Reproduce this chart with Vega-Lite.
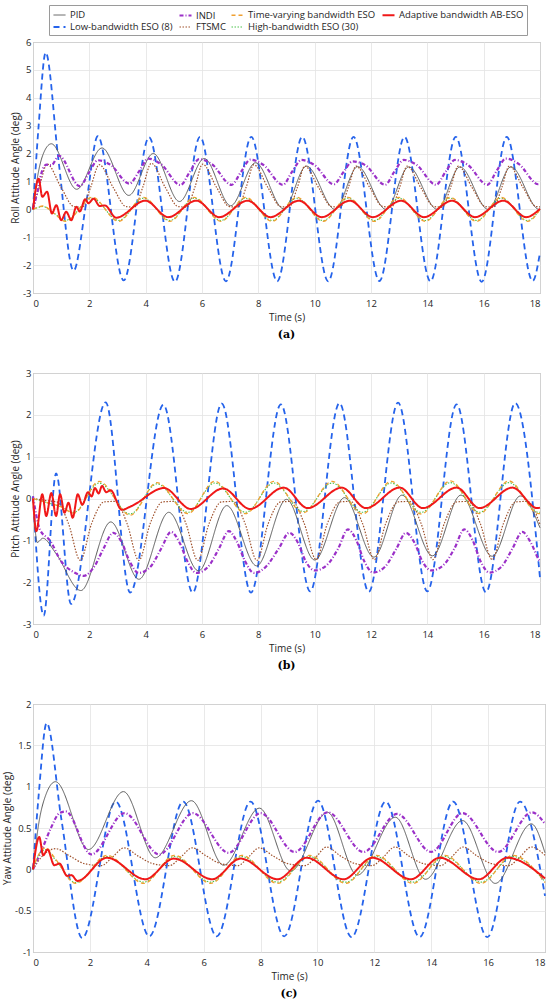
{
  "$schema": "https://vega.github.io/schema/vega-lite/v6.json",
  "padding": {"left": 2, "top": 4, "right": 0, "bottom": 0},
  "datasets": {
    "roll": [
      {"s":"L","t":0,"v":0},{"s":"L","t":0.2,"v":3.0},{"s":"L","t":0.45,"v":5.62},{"s":"L","t":0.9,"v":1.8},{"s":"L","t":1.44,"v":-2.2},{"s":"L","t":1.9,"v":0.3},{"s":"L","t":2.3,"v":2.62},{"s":"L","t":3.22,"v":-2.55},{"s":"L","t":4.12,"v":2.58},{"s":"L","t":5.04,"v":-2.6},{"s":"L","t":5.93,"v":2.6},{"s":"L","t":6.85,"v":-2.58},{"s":"L","t":7.75,"v":2.6},{"s":"L","t":8.67,"v":-2.58},{"s":"L","t":9.56,"v":2.6},{"s":"L","t":10.48,"v":-2.58},{"s":"L","t":11.38,"v":2.6},{"s":"L","t":12.3,"v":-2.57},{"s":"L","t":13.19,"v":2.6},{"s":"L","t":14.11,"v":-2.58},{"s":"L","t":15.01,"v":2.6},{"s":"L","t":15.93,"v":-2.6},{"s":"L","t":16.82,"v":2.6},{"s":"L","t":17.74,"v":-2.57},{"s":"L","t":18,"v":-1.55},
      {"s":"P","t":0,"v":0},{"s":"P","t":0.15,"v":1.1},{"s":"P","t":0.35,"v":1.95},{"s":"P","t":0.65,"v":2.35},{"s":"P","t":1.55,"v":0.72},{"s":"P","t":2.45,"v":2.2},{"s":"P","t":3.4,"v":0.5},{"s":"P","t":4.27,"v":2.0},{"s":"P","t":5.2,"v":0.28},{"s":"P","t":6.08,"v":1.82},{"s":"P","t":7.02,"v":0.13},{"s":"P","t":7.9,"v":1.67},{"s":"P","t":8.9,"v":0.02},{"s":"P","t":9.71,"v":1.55},{"s":"P","t":10.72,"v":0.0},{"s":"P","t":11.53,"v":1.53},{"s":"P","t":12.53,"v":0.0},{"s":"P","t":13.34,"v":1.52},{"s":"P","t":14.35,"v":0.0},{"s":"P","t":15.16,"v":1.52},{"s":"P","t":16.16,"v":0.0},{"s":"P","t":16.97,"v":1.52},{"s":"P","t":17.97,"v":0.0},{"s":"P","t":18,"v":0.01},
      {"s":"F","t":0,"v":0},{"s":"F","t":0.25,"v":0.9},{"s":"F","t":0.5,"v":1.62},{"s":"F","t":1.0,"v":0.78},{"s":"F","t":1.45,"v":0.1},{"s":"F","t":1.75,"v":0.08},{"s":"F","t":2.05,"v":0.8},
      {"s":"F","t":2.35,"v":1.6},{"s":"F","t":2.85,"v":0.78},{"s":"F","t":3.3,"v":0.1},{"s":"F","t":3.6,"v":0.08},{"s":"F","t":3.9,"v":0.8},
      {"s":"F","t":4.2,"v":1.65},{"s":"F","t":4.7,"v":0.78},{"s":"F","t":5.15,"v":0.1},{"s":"F","t":5.45,"v":0.08},{"s":"F","t":5.75,"v":0.8},
      {"s":"F","t":6.02,"v":1.62},{"s":"F","t":6.52,"v":0.78},{"s":"F","t":6.97,"v":0.1},{"s":"F","t":7.27,"v":0.08},{"s":"F","t":7.57,"v":0.8},
      {"s":"F","t":7.84,"v":1.6},{"s":"F","t":8.34,"v":0.78},{"s":"F","t":8.79,"v":0.1},{"s":"F","t":9.09,"v":0.08},{"s":"F","t":9.39,"v":0.8},
      {"s":"F","t":9.65,"v":1.55},{"s":"F","t":10.15,"v":0.76},{"s":"F","t":10.6,"v":0.1},{"s":"F","t":10.9,"v":0.08},{"s":"F","t":11.2,"v":0.8},
      {"s":"F","t":11.47,"v":1.55},{"s":"F","t":11.97,"v":0.76},{"s":"F","t":12.42,"v":0.1},{"s":"F","t":12.72,"v":0.08},{"s":"F","t":13.02,"v":0.8},
      {"s":"F","t":13.28,"v":1.55},{"s":"F","t":13.78,"v":0.76},{"s":"F","t":14.23,"v":0.1},{"s":"F","t":14.53,"v":0.08},{"s":"F","t":14.83,"v":0.8},
      {"s":"F","t":15.1,"v":1.55},{"s":"F","t":15.6,"v":0.76},{"s":"F","t":16.05,"v":0.1},{"s":"F","t":16.35,"v":0.08},{"s":"F","t":16.65,"v":0.8},
      {"s":"F","t":16.91,"v":1.55},{"s":"F","t":17.41,"v":0.76},{"s":"F","t":17.86,"v":0.1},{"s":"F","t":18,"v":0.09},
      {"s":"I","t":0,"v":0},{"s":"I","t":0.15,"v":0.6},{"s":"I","t":0.3,"v":1.3},{"s":"I","t":0.47,"v":1.6},{"s":"I","t":0.65,"v":1.58},{"s":"I","t":0.92,"v":1.92},{"s":"I","t":1.66,"v":0.83},{"s":"I","t":1.98,"v":1.3},
      {"s":"I","t":2.3,"v":1.76},{"s":"I","t":2.75,"v":1.6},{"s":"I","t":3.42,"v":0.92},{"s":"I","t":3.76,"v":1.35},
      {"s":"I","t":4.09,"v":1.82},{"s":"I","t":4.54,"v":1.62},{"s":"I","t":5.24,"v":0.87},{"s":"I","t":5.57,"v":1.35},
      {"s":"I","t":5.9,"v":1.8},{"s":"I","t":6.35,"v":1.62},{"s":"I","t":7.05,"v":0.88},{"s":"I","t":7.39,"v":1.35},
      {"s":"I","t":7.72,"v":1.78},{"s":"I","t":8.17,"v":1.6},{"s":"I","t":8.87,"v":0.88},{"s":"I","t":9.2,"v":1.35},
      {"s":"I","t":9.53,"v":1.77},{"s":"I","t":9.98,"v":1.6},{"s":"I","t":10.68,"v":0.9},{"s":"I","t":11.02,"v":1.33},
      {"s":"I","t":11.35,"v":1.72},{"s":"I","t":11.8,"v":1.58},{"s":"I","t":12.5,"v":0.88},{"s":"I","t":12.83,"v":1.35},
      {"s":"I","t":13.16,"v":1.77},{"s":"I","t":13.61,"v":1.6},{"s":"I","t":14.31,"v":0.88},{"s":"I","t":14.65,"v":1.35},
      {"s":"I","t":14.98,"v":1.77},{"s":"I","t":15.43,"v":1.6},{"s":"I","t":16.13,"v":0.88},{"s":"I","t":16.46,"v":1.38},
      {"s":"I","t":16.79,"v":1.82},{"s":"I","t":17.24,"v":1.63},{"s":"I","t":17.94,"v":0.9},{"s":"I","t":18,"v":0.93},
      {"s":"H","t":0,"v":0},{"s":"H","t":0.35,"v":0.1},{"s":"H","t":0.75,"v":-0.14},{"s":"H","t":1.15,"v":-0.4},{"s":"H","t":2.1,"v":0.4},{"s":"H","t":3.04,"v":-0.4},{"s":"H","t":3.92,"v":0.4},{"s":"H","t":4.86,"v":-0.4},{"s":"H","t":5.73,"v":0.4},{"s":"H","t":6.67,"v":-0.4},{"s":"H","t":7.55,"v":0.4},{"s":"H","t":8.49,"v":-0.4},{"s":"H","t":9.36,"v":0.4},{"s":"H","t":10.3,"v":-0.4},{"s":"H","t":11.18,"v":0.4},{"s":"H","t":12.12,"v":-0.4},{"s":"H","t":12.99,"v":0.4},{"s":"H","t":13.93,"v":-0.4},{"s":"H","t":14.81,"v":0.4},{"s":"H","t":15.75,"v":-0.4},{"s":"H","t":16.62,"v":0.4},{"s":"H","t":17.56,"v":-0.4},{"s":"H","t":18,"v":0.0},
      {"s":"T","t":0,"v":0},{"s":"T","t":0.35,"v":0.12},{"s":"T","t":0.75,"v":-0.15},{"s":"T","t":1.15,"v":-0.43},{"s":"T","t":2.1,"v":0.43},{"s":"T","t":3.04,"v":-0.43},{"s":"T","t":3.92,"v":0.43},{"s":"T","t":4.86,"v":-0.43},{"s":"T","t":5.73,"v":0.43},{"s":"T","t":6.67,"v":-0.43},{"s":"T","t":7.55,"v":0.43},{"s":"T","t":8.49,"v":-0.43},{"s":"T","t":9.36,"v":0.43},{"s":"T","t":10.3,"v":-0.43},{"s":"T","t":11.18,"v":0.43},{"s":"T","t":12.12,"v":-0.43},{"s":"T","t":12.99,"v":0.43},{"s":"T","t":13.93,"v":-0.43},{"s":"T","t":14.81,"v":0.43},{"s":"T","t":15.75,"v":-0.43},{"s":"T","t":16.62,"v":0.43},{"s":"T","t":17.56,"v":-0.43},{"s":"T","t":18,"v":0.0},
      {"s":"A","t":0,"v":0},{"s":"A","t":0.2,"v":1.1},{"s":"A","t":0.33,"v":0.45},{"s":"A","t":0.5,"v":0.63},{"s":"A","t":0.67,"v":-0.15},{"s":"A","t":0.83,"v":0.15},{"s":"A","t":1.0,"v":-0.39},{"s":"A","t":1.18,"v":-0.09},{"s":"A","t":1.36,"v":-0.39},{"s":"A","t":1.54,"v":0.09},{"s":"A","t":1.66,"v":-0.08},{"s":"A","t":1.85,"v":0.36},{"s":"A","t":1.97,"v":0.22},{"s":"A","t":2.15,"v":0.38},{"s":"A","t":2.37,"v":0.12},{"s":"A","t":2.55,"v":0.14},{"s":"A","t":2.95,"v":-0.3},{"s":"A","t":3.99,"v":0.31},{"s":"A","t":4.8,"v":-0.28},{"s":"A","t":5.8,"v":0.31},{"s":"A","t":6.61,"v":-0.28},{"s":"A","t":7.62,"v":0.31},{"s":"A","t":8.43,"v":-0.28},{"s":"A","t":9.44,"v":0.31},{"s":"A","t":10.25,"v":-0.28},{"s":"A","t":11.25,"v":0.31},{"s":"A","t":12.06,"v":-0.28},{"s":"A","t":13.07,"v":0.31},{"s":"A","t":13.88,"v":-0.28},{"s":"A","t":14.88,"v":0.31},{"s":"A","t":15.69,"v":-0.28},{"s":"A","t":16.7,"v":0.31},{"s":"A","t":17.51,"v":-0.28},{"s":"A","t":18,"v":0.02}
    ],
    "pitch": [
      {"s":"L","t":0,"v":0.05},{"s":"L","t":0.38,"v":-2.8},{"s":"L","t":0.82,"v":0.6},{"s":"L","t":1.35,"v":-2.52},{"s":"L","t":2.58,"v":2.3},{"s":"L","t":3.45,"v":-2.25},{"s":"L","t":4.63,"v":2.24},{"s":"L","t":5.67,"v":-2.25},{"s":"L","t":6.7,"v":2.27},{"s":"L","t":7.74,"v":-2.25},{"s":"L","t":8.8,"v":2.25},{"s":"L","t":9.84,"v":-2.22},{"s":"L","t":10.88,"v":2.28},{"s":"L","t":11.92,"v":-2.23},{"s":"L","t":12.96,"v":2.29},{"s":"L","t":14.0,"v":-2.22},{"s":"L","t":15.04,"v":2.25},{"s":"L","t":16.08,"v":-2.24},{"s":"L","t":17.12,"v":2.28},{"s":"L","t":18,"v":-1.9},
      {"s":"P","t":0,"v":0},{"s":"P","t":0.15,"v":-1.05},{"s":"P","t":0.35,"v":-0.95},{"s":"P","t":0.8,"v":-1.3},{"s":"P","t":1.7,"v":-2.2},{"s":"P","t":2.76,"v":-0.56},{"s":"P","t":3.76,"v":-1.93},{"s":"P","t":4.82,"v":-0.33},{"s":"P","t":5.88,"v":-1.73},{"s":"P","t":6.88,"v":-0.17},{"s":"P","t":7.94,"v":-1.61},{"s":"P","t":9.0,"v":-0.02},{"s":"P","t":10.0,"v":-1.47},{"s":"P","t":11.06,"v":0.02},{"s":"P","t":12.1,"v":-1.4},{"s":"P","t":13.1,"v":0.08},{"s":"P","t":14.18,"v":-1.37},{"s":"P","t":15.19,"v":0.08},{"s":"P","t":16.3,"v":-1.38},{"s":"P","t":17.3,"v":0.06},{"s":"P","t":18,"v":-0.7},
      {"s":"F","t":0,"v":0},{"s":"F","t":0.6,"v":-0.06},{"s":"F","t":0.85,"v":-0.08},{"s":"F","t":1.26,"v":-0.6},{"s":"F","t":1.68,"v":-1.48},{"s":"F","t":2.08,"v":-0.6},{"s":"F","t":2.53,"v":-0.08},{"s":"F","t":2.93,"v":-0.07},{"s":"F","t":3.34,"v":-0.6},{"s":"F","t":3.76,"v":-1.48},{"s":"F","t":4.16,"v":-0.6},{"s":"F","t":4.61,"v":-0.08},{"s":"F","t":5.0,"v":-0.07},{"s":"F","t":5.43,"v":-0.6},{"s":"F","t":5.85,"v":-1.48},{"s":"F","t":6.25,"v":-0.6},{"s":"F","t":6.7,"v":-0.08},{"s":"F","t":7.1,"v":-0.07},{"s":"F","t":7.53,"v":-0.6},{"s":"F","t":7.95,"v":-1.48},{"s":"F","t":8.35,"v":-0.6},{"s":"F","t":8.8,"v":-0.08},{"s":"F","t":9.2,"v":-0.07},{"s":"F","t":9.63,"v":-0.6},{"s":"F","t":10.05,"v":-1.46},{"s":"F","t":10.45,"v":-0.6},{"s":"F","t":10.9,"v":-0.08},{"s":"F","t":11.28,"v":-0.07},{"s":"F","t":11.7,"v":-0.6},{"s":"F","t":12.12,"v":-1.46},{"s":"F","t":12.52,"v":-0.6},{"s":"F","t":12.97,"v":-0.08},{"s":"F","t":13.36,"v":-0.07},{"s":"F","t":13.78,"v":-0.6},{"s":"F","t":14.2,"v":-1.46},{"s":"F","t":14.6,"v":-0.6},{"s":"F","t":15.05,"v":-0.08},{"s":"F","t":15.46,"v":-0.07},{"s":"F","t":15.88,"v":-0.6},{"s":"F","t":16.3,"v":-1.46},{"s":"F","t":16.7,"v":-0.6},{"s":"F","t":17.15,"v":-0.08},{"s":"F","t":17.55,"v":-0.07},{"s":"F","t":18,"v":-0.62},
      {"s":"I","t":0,"v":0.05},{"s":"I","t":0.25,"v":-0.75},{"s":"I","t":0.6,"v":-1.0},{"s":"I","t":1.0,"v":-1.5},{"s":"I","t":1.47,"v":-1.77},{"s":"I","t":1.8,"v":-1.85},{"s":"I","t":2.2,"v":-1.6},{"s":"I","t":2.5,"v":-1.2},
      {"s":"I","t":2.85,"v":-0.82},{"s":"I","t":3.15,"v":-1.05},{"s":"I","t":3.43,"v":-1.5},{"s":"I","t":3.75,"v":-1.78},{"s":"I","t":4.17,"v":-1.63},{"s":"I","t":4.55,"v":-1.2},
      {"s":"I","t":4.9,"v":-0.8},{"s":"I","t":5.2,"v":-1.05},{"s":"I","t":5.48,"v":-1.5},{"s":"I","t":5.8,"v":-1.78},{"s":"I","t":6.22,"v":-1.63},{"s":"I","t":6.6,"v":-1.2},
      {"s":"I","t":6.95,"v":-0.78},{"s":"I","t":7.25,"v":-1.05},{"s":"I","t":7.53,"v":-1.5},{"s":"I","t":7.85,"v":-1.78},{"s":"I","t":8.27,"v":-1.63},{"s":"I","t":8.72,"v":-1.2},
      {"s":"I","t":9.1,"v":-0.82},{"s":"I","t":9.4,"v":-1.05},{"s":"I","t":9.68,"v":-1.5},{"s":"I","t":10.0,"v":-1.72},{"s":"I","t":10.42,"v":-1.6},{"s":"I","t":10.83,"v":-1.2},
      {"s":"I","t":11.18,"v":-0.74},{"s":"I","t":11.48,"v":-1.0},{"s":"I","t":11.76,"v":-1.5},{"s":"I","t":12.08,"v":-1.77},{"s":"I","t":12.5,"v":-1.63},{"s":"I","t":12.9,"v":-1.2},
      {"s":"I","t":13.24,"v":-0.82},{"s":"I","t":13.54,"v":-1.05},{"s":"I","t":13.82,"v":-1.5},{"s":"I","t":14.14,"v":-1.72},{"s":"I","t":14.56,"v":-1.6},{"s":"I","t":14.96,"v":-1.2},
      {"s":"I","t":15.31,"v":-0.74},{"s":"I","t":15.61,"v":-1.0},{"s":"I","t":15.89,"v":-1.5},{"s":"I","t":16.21,"v":-1.77},{"s":"I","t":16.63,"v":-1.63},{"s":"I","t":17.02,"v":-1.2},
      {"s":"I","t":17.37,"v":-0.8},{"s":"I","t":17.67,"v":-1.05},{"s":"I","t":17.95,"v":-1.45},{"s":"I","t":18,"v":-1.5},
      {"s":"H","t":0,"v":0},{"s":"H","t":0.5,"v":-0.1},{"s":"H","t":1.0,"v":-0.2},{"s":"H","t":1.45,"v":-0.33},{"s":"H","t":2.35,"v":0.37},{"s":"H","t":3.45,"v":-0.37},{"s":"H","t":4.4,"v":0.35},{"s":"H","t":5.5,"v":-0.33},{"s":"H","t":6.45,"v":0.37},{"s":"H","t":7.55,"v":-0.33},{"s":"H","t":8.55,"v":0.37},{"s":"H","t":9.59,"v":-0.31},{"s":"H","t":10.62,"v":0.37},{"s":"H","t":11.7,"v":-0.33},{"s":"H","t":12.72,"v":0.37},{"s":"H","t":13.78,"v":-0.33},{"s":"H","t":14.82,"v":0.38},{"s":"H","t":15.85,"v":-0.33},{"s":"H","t":16.9,"v":0.38},{"s":"H","t":17.95,"v":-0.33},{"s":"H","t":18,"v":-0.33},
      {"s":"T","t":0,"v":0},{"s":"T","t":0.5,"v":-0.1},{"s":"T","t":1.0,"v":-0.2},{"s":"T","t":1.45,"v":-0.35},{"s":"T","t":2.35,"v":0.41},{"s":"T","t":3.45,"v":-0.4},{"s":"T","t":4.4,"v":0.38},{"s":"T","t":5.5,"v":-0.36},{"s":"T","t":6.45,"v":0.41},{"s":"T","t":7.55,"v":-0.36},{"s":"T","t":8.55,"v":0.41},{"s":"T","t":9.59,"v":-0.34},{"s":"T","t":10.62,"v":0.41},{"s":"T","t":11.7,"v":-0.37},{"s":"T","t":12.72,"v":0.41},{"s":"T","t":13.78,"v":-0.37},{"s":"T","t":14.82,"v":0.42},{"s":"T","t":15.85,"v":-0.36},{"s":"T","t":16.9,"v":0.42},{"s":"T","t":17.95,"v":-0.36},{"s":"T","t":18,"v":-0.36},
      {"s":"A","t":0,"v":0},{"s":"A","t":0.12,"v":-0.78},{"s":"A","t":0.33,"v":0.1},{"s":"A","t":0.47,"v":-0.42},{"s":"A","t":0.65,"v":0.13},{"s":"A","t":0.82,"v":-0.42},{"s":"A","t":0.96,"v":0.1},{"s":"A","t":1.12,"v":-0.34},{"s":"A","t":1.26,"v":-0.1},{"s":"A","t":1.41,"v":-0.46},{"s":"A","t":1.59,"v":0.1},{"s":"A","t":1.75,"v":-0.15},{"s":"A","t":1.95,"v":0.15},{"s":"A","t":2.08,"v":0.05},{"s":"A","t":2.2,"v":0.25},{"s":"A","t":2.33,"v":0.12},{"s":"A","t":2.45,"v":0.3},{"s":"A","t":2.6,"v":0.15},{"s":"A","t":2.75,"v":0.2},{"s":"A","t":3.15,"v":-0.27},{"s":"A","t":3.5,"v":-0.18},{"s":"A","t":4.65,"v":0.25},{"s":"A","t":5.6,"v":-0.25},{"s":"A","t":6.75,"v":0.24},{"s":"A","t":7.7,"v":-0.25},{"s":"A","t":8.9,"v":0.26},{"s":"A","t":9.75,"v":-0.23},{"s":"A","t":10.96,"v":0.26},{"s":"A","t":11.82,"v":-0.23},{"s":"A","t":13.02,"v":0.26},{"s":"A","t":13.84,"v":-0.23},{"s":"A","t":15.04,"v":0.26},{"s":"A","t":15.85,"v":-0.23},{"s":"A","t":17.02,"v":0.26},{"s":"A","t":17.9,"v":-0.23},{"s":"A","t":18,"v":-0.22}
    ],
    "yaw": [
      {"s":"L","t":0,"v":0},{"s":"L","t":0.2,"v":0.9},{"s":"L","t":0.48,"v":1.77},{"s":"L","t":1.0,"v":0.6},{"s":"L","t":1.73,"v":-0.83},{"s":"L","t":2.91,"v":0.82},{"s":"L","t":4.09,"v":-0.81},{"s":"L","t":5.28,"v":0.82},{"s":"L","t":6.46,"v":-0.81},{"s":"L","t":7.65,"v":0.82},{"s":"L","t":8.83,"v":-0.81},{"s":"L","t":10.02,"v":0.83},{"s":"L","t":11.2,"v":-0.82},{"s":"L","t":12.4,"v":0.82},{"s":"L","t":13.59,"v":-0.82},{"s":"L","t":14.77,"v":0.82},{"s":"L","t":15.97,"v":-0.82},{"s":"L","t":17.12,"v":0.82},{"s":"L","t":18,"v":-0.32},
      {"s":"P","t":0,"v":0},{"s":"P","t":0.2,"v":0.55},{"s":"P","t":0.45,"v":0.9},{"s":"P","t":0.79,"v":1.06},{"s":"P","t":1.95,"v":0.24},{"s":"P","t":3.18,"v":0.94},{"s":"P","t":4.3,"v":0.14},{"s":"P","t":5.57,"v":0.83},{"s":"P","t":6.7,"v":0.05},{"s":"P","t":7.96,"v":0.74},{"s":"P","t":9.06,"v":-0.02},{"s":"P","t":10.35,"v":0.69},{"s":"P","t":11.4,"v":-0.07},{"s":"P","t":12.74,"v":0.63},{"s":"P","t":13.8,"v":-0.12},{"s":"P","t":15.1,"v":0.59},{"s":"P","t":16.25,"v":-0.17},{"s":"P","t":17.52,"v":0.55},{"s":"P","t":18,"v":0.2},
      {"s":"F","t":0,"v":0},{"s":"F","t":0.3,"v":0.15},{"s":"F","t":0.8,"v":0.25},{"s":"F","t":1.3,"v":0.16},{"s":"F","t":1.8,"v":0.07},{"s":"F","t":2.4,"v":0.045},{"s":"F","t":2.8,"v":0.15},
      {"s":"F","t":3.2,"v":0.26},{"s":"F","t":3.7,"v":0.16},{"s":"F","t":4.2,"v":0.07},{"s":"F","t":4.8,"v":0.045},{"s":"F","t":5.2,"v":0.15},
      {"s":"F","t":5.6,"v":0.26},{"s":"F","t":6.1,"v":0.16},{"s":"F","t":6.6,"v":0.07},{"s":"F","t":7.2,"v":0.045},{"s":"F","t":7.58,"v":0.15},
      {"s":"F","t":7.95,"v":0.26},{"s":"F","t":8.45,"v":0.16},{"s":"F","t":8.95,"v":0.07},{"s":"F","t":9.55,"v":0.045},{"s":"F","t":9.95,"v":0.15},
      {"s":"F","t":10.32,"v":0.27},{"s":"F","t":10.82,"v":0.16},{"s":"F","t":11.32,"v":0.07},{"s":"F","t":11.92,"v":0.045},{"s":"F","t":12.32,"v":0.15},
      {"s":"F","t":12.72,"v":0.27},{"s":"F","t":13.22,"v":0.16},{"s":"F","t":13.72,"v":0.07},{"s":"F","t":14.32,"v":0.045},{"s":"F","t":14.72,"v":0.15},
      {"s":"F","t":15.12,"v":0.27},{"s":"F","t":15.62,"v":0.16},{"s":"F","t":16.12,"v":0.07},{"s":"F","t":16.72,"v":0.045},{"s":"F","t":17.12,"v":0.15},
      {"s":"F","t":17.52,"v":0.27},{"s":"F","t":18,"v":0.17},
      {"s":"I","t":0,"v":0},{"s":"I","t":0.34,"v":0.26},{"s":"I","t":0.63,"v":0.5},{"s":"I","t":0.93,"v":0.68},{"s":"I","t":1.15,"v":0.7},{"s":"I","t":2.05,"v":0.18},{"s":"I","t":3.22,"v":0.68},{"s":"I","t":4.44,"v":0.18},{"s":"I","t":5.62,"v":0.68},{"s":"I","t":6.88,"v":0.2},{"s":"I","t":8.0,"v":0.68},{"s":"I","t":9.2,"v":0.21},{"s":"I","t":10.36,"v":0.69},{"s":"I","t":11.62,"v":0.21},{"s":"I","t":12.8,"v":0.67},{"s":"I","t":14.0,"v":0.21},{"s":"I","t":15.1,"v":0.68},{"s":"I","t":16.35,"v":0.21},{"s":"I","t":17.54,"v":0.69},{"s":"I","t":18,"v":0.55},
      {"s":"H","t":0,"v":0},{"s":"H","t":0.2,"v":0.17},{"s":"H","t":0.45,"v":0.24},{"s":"H","t":0.8,"v":0.11},{"s":"H","t":1.5,"v":-0.16},{"s":"H","t":2.6,"v":0.155},{"s":"H","t":3.9,"v":-0.155},{"s":"H","t":4.97,"v":0.155},{"s":"H","t":6.25,"v":-0.155},{"s":"H","t":7.34,"v":0.155},{"s":"H","t":8.6,"v":-0.155},{"s":"H","t":9.72,"v":0.155},{"s":"H","t":11.0,"v":-0.155},{"s":"H","t":12.07,"v":0.155},{"s":"H","t":13.36,"v":-0.155},{"s":"H","t":14.48,"v":0.155},{"s":"H","t":15.75,"v":-0.155},{"s":"H","t":16.87,"v":0.155},{"s":"H","t":18,"v":-0.15},
      {"s":"T","t":0,"v":0},{"s":"T","t":0.2,"v":0.18},{"s":"T","t":0.45,"v":0.26},{"s":"T","t":0.8,"v":0.12},{"s":"T","t":1.5,"v":-0.17},{"s":"T","t":2.6,"v":0.17},{"s":"T","t":3.9,"v":-0.17},{"s":"T","t":4.97,"v":0.17},{"s":"T","t":6.25,"v":-0.17},{"s":"T","t":7.34,"v":0.17},{"s":"T","t":8.6,"v":-0.17},{"s":"T","t":9.72,"v":0.17},{"s":"T","t":11.0,"v":-0.17},{"s":"T","t":12.07,"v":0.17},{"s":"T","t":13.36,"v":-0.17},{"s":"T","t":14.48,"v":0.17},{"s":"T","t":15.75,"v":-0.17},{"s":"T","t":16.87,"v":0.17},{"s":"T","t":18,"v":-0.16},
      {"s":"A","t":0,"v":0},{"s":"A","t":0.22,"v":0.39},{"s":"A","t":0.36,"v":0.17},{"s":"A","t":0.51,"v":0.24},{"s":"A","t":0.75,"v":0.05},{"s":"A","t":0.93,"v":0.07},{"s":"A","t":1.2,"v":-0.08},{"s":"A","t":1.35,"v":-0.07},{"s":"A","t":1.56,"v":-0.14},{"s":"A","t":2.6,"v":0.14},{"s":"A","t":3.95,"v":-0.12},{"s":"A","t":4.95,"v":0.13},{"s":"A","t":6.3,"v":-0.12},{"s":"A","t":7.3,"v":0.13},{"s":"A","t":8.6,"v":-0.12},{"s":"A","t":9.62,"v":0.14},{"s":"A","t":10.92,"v":-0.12},{"s":"A","t":11.93,"v":0.14},{"s":"A","t":13.29,"v":-0.12},{"s":"A","t":14.3,"v":0.14},{"s":"A","t":15.68,"v":-0.12},{"s":"A","t":16.67,"v":0.14},{"s":"A","t":18,"v":-0.11}
    ]
  },
  "columns": 1,
  "bounds": "full",
  "spacing": 27,
  "concat": [
    {
      "data": {"name": "roll"},
      "transform": [{"lookup": "s", "from": {"data": {"values": [
        {"s":"P","name":"PID"},{"s":"I","name":"INDI"},{"s":"T","name":"Time-varying bandwidth ESO"},{"s":"A","name":"Adaptive bandwidth AB-ESO"},
        {"s":"L","name":"Low-bandwidth ESO (8)"},{"s":"F","name":"FTSMC"},{"s":"H","name":"High-bandwidth ESO (30)"}]}, "key": "s", "fields": ["name"]}}],
      "width": 507,
      "height": 251,
      "title": {"text": "(a)", "orient": "bottom", "frame": "group", "anchor": "middle"},
      "mark": {"type": "line", "interpolate": "monotone"},
      "encoding": {
        "x": {"field": "t", "type": "quantitative", "scale": {"domain": [0, 18], "nice": false},
              "axis": {"values": [0,2,4,6,8,10,12,14,16,18], "title": "Time (s)"}},
        "y": {"field": "v", "type": "quantitative", "scale": {"domain": [-3, 6], "nice": false},
              "axis": {"values": [-3,-2,-1,0,1,2,3,4,5,6], "title": "Roll Attitude Angle (deg)", "labelExpr": "datum.value + ''"}},
        "color": {"field": "name", "type": "nominal",
                  "scale": {"domain": ["PID","Low-bandwidth ESO (8)","INDI","FTSMC","Time-varying bandwidth ESO","High-bandwidth ESO (30)","Adaptive bandwidth AB-ESO"],
                            "range": ["#5a5a5a","#2563eb","#9b30c8","#a0522d","#f0a030","#4cc44c","#f01818"]},
                  "legend": {"title": null}},
        "strokeDash": {"field": "name", "type": "nominal",
                  "scale": {"domain": ["PID","Low-bandwidth ESO (8)","INDI","FTSMC","Time-varying bandwidth ESO","High-bandwidth ESO (30)","Adaptive bandwidth AB-ESO"],
                            "range": [[1,0],[6,4],[4,2,1,2],[1.5,1.5],[4,3],[1.5,1.5],[1,0]]},
                  "legend": {"title": null}},
        "strokeWidth": {"field": "name", "type": "nominal",
                  "scale": {"type": "ordinal", "domain": ["PID","Low-bandwidth ESO (8)","INDI","FTSMC","Time-varying bandwidth ESO","High-bandwidth ESO (30)","Adaptive bandwidth AB-ESO"],
                            "range": [1, 1.8, 2.2, 1.2, 1.3, 1.1, 2]},
                  "legend": {"title": null}}
      }
    },
    {
      "data": {"name": "pitch"},
      "transform": [{"lookup": "s", "from": {"data": {"values": [
        {"s":"P","name":"PID"},{"s":"I","name":"INDI"},{"s":"T","name":"Time-varying bandwidth ESO"},{"s":"A","name":"Adaptive bandwidth AB-ESO"},
        {"s":"L","name":"Low-bandwidth ESO (8)"},{"s":"F","name":"FTSMC"},{"s":"H","name":"High-bandwidth ESO (30)"}]}, "key": "s", "fields": ["name"]}}],
      "width": 507,
      "height": 251,
      "title": {"text": "(b)", "orient": "bottom", "frame": "group", "anchor": "middle"},
      "mark": {"type": "line", "interpolate": "monotone"},
      "encoding": {
        "x": {"field": "t", "type": "quantitative", "scale": {"domain": [0, 18], "nice": false},
              "axis": {"values": [0,2,4,6,8,10,12,14,16,18], "title": "Time (s)"}},
        "y": {"field": "v", "type": "quantitative", "scale": {"domain": [-3, 3], "nice": false},
              "axis": {"values": [-3,-2,-1,0,1,2,3], "title": "Pitch Attitude Angle (deg)", "labelExpr": "datum.value + ''"}},
        "color": {"field": "name", "type": "nominal",
                  "scale": {"domain": ["PID","Low-bandwidth ESO (8)","INDI","FTSMC","Time-varying bandwidth ESO","High-bandwidth ESO (30)","Adaptive bandwidth AB-ESO"],
                            "range": ["#5a5a5a","#2563eb","#9b30c8","#a0522d","#f0a030","#4cc44c","#f01818"]},
                  "legend": {"title": null}},
        "strokeDash": {"field": "name", "type": "nominal",
                  "scale": {"domain": ["PID","Low-bandwidth ESO (8)","INDI","FTSMC","Time-varying bandwidth ESO","High-bandwidth ESO (30)","Adaptive bandwidth AB-ESO"],
                            "range": [[1,0],[6,4],[4,2,1,2],[1.5,1.5],[4,3],[1.5,1.5],[1,0]]},
                  "legend": {"title": null}},
        "strokeWidth": {"field": "name", "type": "nominal",
                  "scale": {"type": "ordinal", "domain": ["PID","Low-bandwidth ESO (8)","INDI","FTSMC","Time-varying bandwidth ESO","High-bandwidth ESO (30)","Adaptive bandwidth AB-ESO"],
                            "range": [1, 1.8, 2.2, 1.2, 1.3, 1.1, 2]},
                  "legend": {"title": null}}
      }
    },
    {
      "data": {"name": "yaw"},
      "transform": [{"lookup": "s", "from": {"data": {"values": [
        {"s":"P","name":"PID"},{"s":"I","name":"INDI"},{"s":"T","name":"Time-varying bandwidth ESO"},{"s":"A","name":"Adaptive bandwidth AB-ESO"},
        {"s":"L","name":"Low-bandwidth ESO (8)"},{"s":"F","name":"FTSMC"},{"s":"H","name":"High-bandwidth ESO (30)"}]}, "key": "s", "fields": ["name"]}}],
      "width": 512,
      "height": 248,
      "title": {"text": "(c)", "orient": "bottom", "frame": "group", "anchor": "middle"},
      "mark": {"type": "line", "interpolate": "monotone"},
      "encoding": {
        "x": {"field": "t", "type": "quantitative", "scale": {"domain": [0, 18], "nice": false},
              "axis": {"values": [0,2,4,6,8,10,12,14,16,18], "title": "Time (s)"}},
        "y": {"field": "v", "type": "quantitative", "scale": {"domain": [-1, 2], "nice": false},
              "axis": {"values": [-1,-0.5,0,0.5,1,1.5,2], "title": "Yaw Attitude Angle (deg)", "labelExpr": "datum.value + ''"}},
        "color": {"field": "name", "type": "nominal",
                  "scale": {"domain": ["PID","Low-bandwidth ESO (8)","INDI","FTSMC","Time-varying bandwidth ESO","High-bandwidth ESO (30)","Adaptive bandwidth AB-ESO"],
                            "range": ["#5a5a5a","#2563eb","#9b30c8","#a0522d","#f0a030","#4cc44c","#f01818"]},
                  "legend": {"title": null}},
        "strokeDash": {"field": "name", "type": "nominal",
                  "scale": {"domain": ["PID","Low-bandwidth ESO (8)","INDI","FTSMC","Time-varying bandwidth ESO","High-bandwidth ESO (30)","Adaptive bandwidth AB-ESO"],
                            "range": [[1,0],[6,4],[4,2,1,2],[1.5,1.5],[4,3],[1.5,1.5],[1,0]]},
                  "legend": {"title": null}},
        "strokeWidth": {"field": "name", "type": "nominal",
                  "scale": {"type": "ordinal", "domain": ["PID","Low-bandwidth ESO (8)","INDI","FTSMC","Time-varying bandwidth ESO","High-bandwidth ESO (30)","Adaptive bandwidth AB-ESO"],
                            "range": [1, 1.8, 2.2, 1.2, 1.3, 1.1, 2]},
                  "legend": {"title": null}}
      }
    }
  ],
  "resolve": {"scale": {"color": "shared", "strokeDash": "shared", "strokeWidth": "shared"}},
  "config": {
    "view": {"stroke": "#8f8f8f", "strokeWidth": 1},
    "axis": {"grid": true, "gridColor": "#e3e3e3", "gridWidth": 0.8, "domain": false, "ticks": false,
             "labelFont": "Open Sans", "labelFontSize": 9.5, "labelColor": "#262626", "labelPadding": 5,
             "titleFont": "Open Sans", "titleFontSize": 10, "titleFontWeight": "normal", "titleColor": "#262626"},
    "axisX": {"titlePadding": 5},
    "axisY": {"titlePadding": 2, "labelPadding": 2},
    "title": {"font": "DejaVu Serif", "fontSize": 11, "fontWeight": "bold", "color": "#000000", "offset": 6},
    "legend": {"orient": "none", "legendX": 16, "legendY": -37, "columns": 4, "gridAlign": "each",
               "symbolType": "stroke", "symbolSize": 144, "labelFont": "Open Sans", "labelFontSize": 9.5,
               "labelColor": "#262626", "strokeColor": "#9a9a9a", "padding": 3, "rowPadding": 0,
               "columnPadding": 2, "labelOffset": 3, "labelLimit": 300}
  }
}
